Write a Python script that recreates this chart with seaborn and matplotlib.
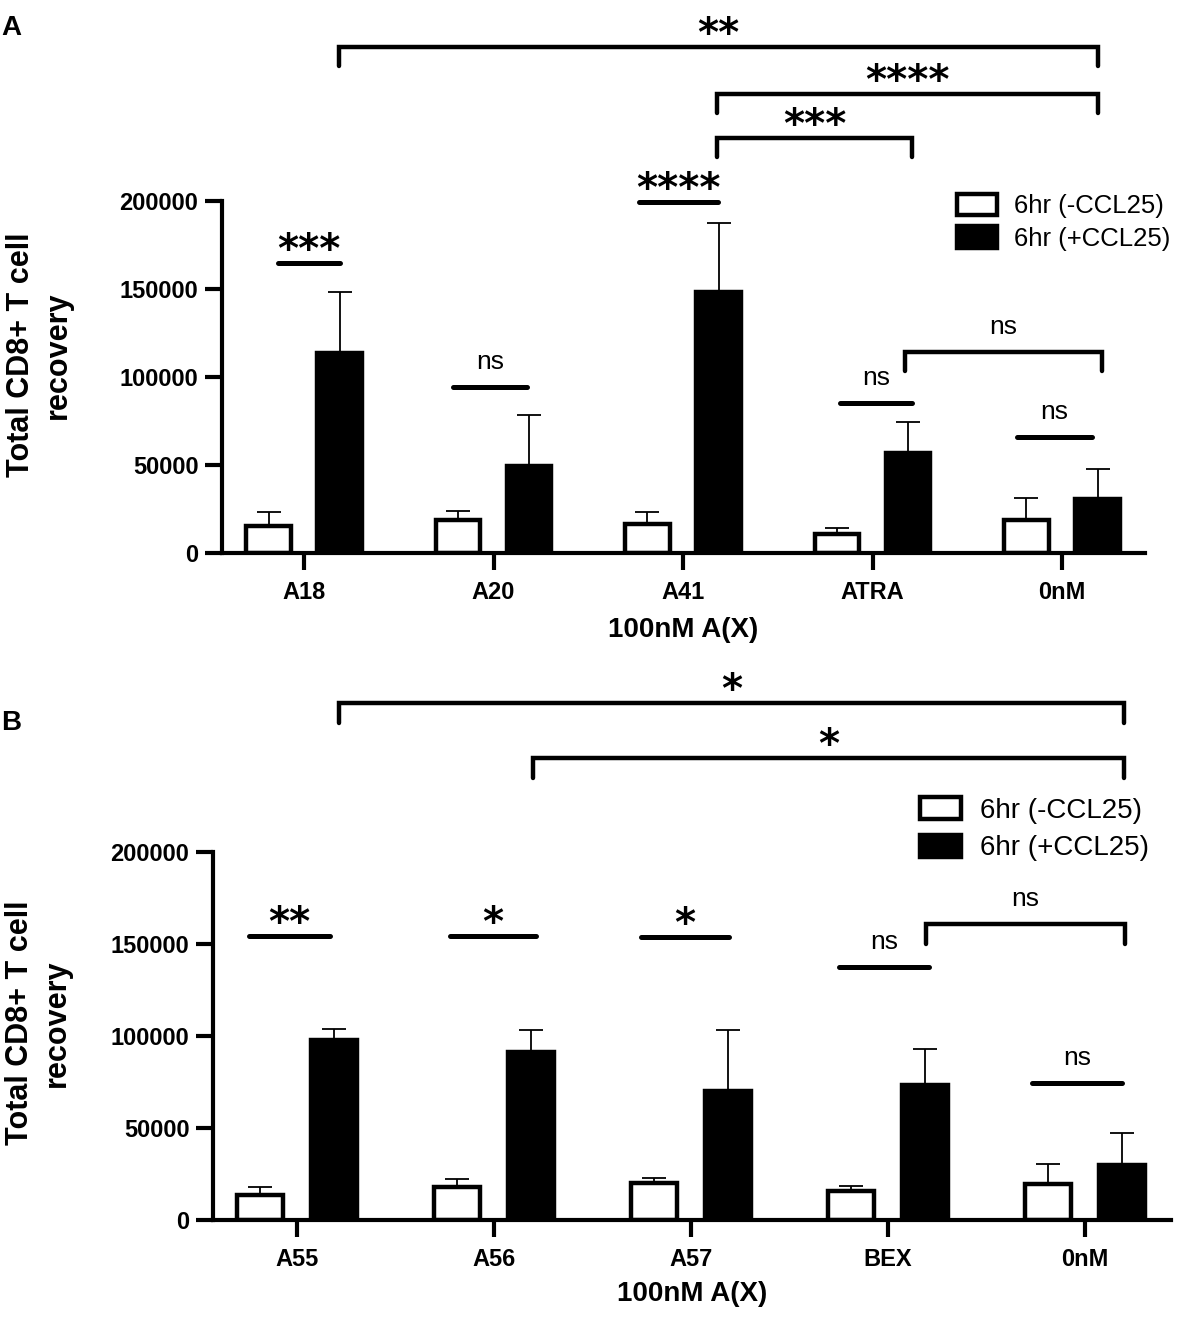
import matplotlib
matplotlib.use('Agg')
import matplotlib.pyplot as plt
from matplotlib.patches import Patch
import pandas as pd
import seaborn as sns

# panel A values (mean and upper SEM)
groups_a = ['A18', 'A20', 'A41', 'ATRA', '0nM']
minus_a = [15300, 18700, 16500, 10800, 18700]
minus_err_a = [8000, 5300, 6600, 3600, 12600]
plus_a = [113800, 49600, 148500, 56600, 30700]
plus_err_a = [34700, 28800, 38800, 17700, 17000]

# panel B values
groups_b = ['A55', 'A56', 'A57', 'BEX', '0nM']
minus_b = [13600, 17900, 20300, 15800, 19500]
minus_err_b = [4200, 4400, 2700, 2500, 10900]
plus_b = [97800, 91300, 70100, 73600, 29900]
plus_err_b = [6000, 12000, 33200, 19600, 17400]

hue_labels = ['6hr (-CCL25)', '6hr (+CCL25)']
yticks = [0, 50000, 100000, 150000, 200000]

# significance marks: (x start, x end, y, label) in group units / data units
lines_a = [(-0.14, 0.19, 164800, '***'), (0.786, 1.177, 94300, 'ns'),
           (1.77, 2.186, 199400, '****'), (2.83, 3.21, 85200, 'ns'),
           (3.76, 4.16, 65900, 'ns')]
brackets_a = [(3.17, 4.21, 114200, 'ns'), (2.18, 3.21, 235800, '***'),
              (2.18, 4.19, 260800, '****'), (0.185, 4.19, 287500, '**')]
lines_b = [(-0.244, 0.168, 154300, '**'), (0.777, 1.213, 154300, '*'),
           (1.746, 2.193, 153800, '*'), (2.751, 3.208, 137500, 'ns'),
           (3.731, 4.188, 74500, 'ns')]
brackets_b = [(3.193, 4.203, 160900, 'ns'), (1.198, 4.198, 251100, '*'),
              (0.213, 4.198, 281000, '*')]

sns.set_style('ticks')
plt.rcParams['font.family'] = ['Liberation Sans', 'DejaVu Sans']
plt.rcParams.update({'text.color': 'black', 'axes.labelcolor': 'black',
                     'axes.edgecolor': 'black', 'xtick.color': 'black',
                     'ytick.color': 'black'})


def make_frame(groups, minus, minus_err, plus, plus_err):
    rows = []
    for i, g in enumerate(groups):
        rows.append({'group': g, 'cond': hue_labels[0],
                     'value': minus[i], 'err': minus_err[i]})
        rows.append({'group': g, 'cond': hue_labels[1],
                     'value': plus[i], 'err': plus_err[i]})
    return pd.DataFrame(rows)


def put_label(ax, x, y, text):
    if text == 'ns':
        ax.annotate(text, xy=(x, y), xytext=(0, 13), textcoords='offset points',
                    ha='center', va='baseline', fontsize=19, color='black',
                    annotation_clip=False)
    else:
        ax.annotate(text, xy=(x, y), xytext=(0, 1), textcoords='offset points',
                    ha='center', va='baseline', fontsize=29, fontweight='bold',
                    family='DejaVu Sans', color='black', annotation_clip=False)


def draw_panel(ax, df, groups, lines, brackets, legend_pos, legend_size,
               ylabel_pos, xlabel_y, xlim):
    sns.barplot(data=df, x='group', y='value', hue='cond', order=groups,
                hue_order=hue_labels, palette=['white', 'black'],
                errorbar=None, width=0.75, gap=0.37, edgecolor='black',
                linewidth=3.2, legend=False, ax=ax)

    # upper error bars only, GraphPad style
    for patch in ax.patches:
        xc = patch.get_x() + patch.get_width() / 2
        gi = int(round(xc))
        cond = hue_labels[0] if xc < gi else hue_labels[1]
        row = df[(df['group'] == groups[gi]) & (df['cond'] == cond)].iloc[0]
        ax.errorbar(xc, row['value'], yerr=[[0], [row['err']]], fmt='none',
                    ecolor='black', elinewidth=1.3, capsize=8.5, capthick=1.3,
                    zorder=1)

    ax.set_ylim(0, 200000)
    ax.set_xlim(*xlim)
    ax.set_yticks(yticks)
    ax.set_yticklabels([str(t) for t in yticks])
    sns.despine(ax=ax)
    for side in ['left', 'bottom']:
        ax.spines[side].set_linewidth(3)
    ax.tick_params(axis='both', length=12, width=3, labelsize=17)
    ax.tick_params(axis='y', pad=5)
    ax.tick_params(axis='x', pad=8)
    for lab in ax.get_xticklabels() + ax.get_yticklabels():
        lab.set_fontweight('bold')

    ax.set_xlabel('100nM A(X)', fontsize=20, fontweight='bold')
    ax.xaxis.set_label_coords(0.5, xlabel_y)
    ax.set_ylabel('Total CD8+ T cell\nrecovery', fontsize=22,
                  fontweight='bold', linespacing=1.3)
    ax.yaxis.set_label_coords(*ylabel_pos)

    drop = 10800
    for x1, x2, y, text in lines:
        ax.plot([x1, x2], [y, y], color='black', lw=3.6,
                solid_capstyle='round', clip_on=False)
        put_label(ax, (x1 + x2) / 2, y, text)
    for x1, x2, y, text in brackets:
        ax.plot([x1, x1, x2, x2], [y - drop, y, y, y - drop], color='black',
                lw=3.2, solid_joinstyle='miter', clip_on=False)
        put_label(ax, (x1 + x2) / 2, y, text)

    handles = [Patch(facecolor='white', edgecolor='black', linewidth=3.2),
               Patch(facecolor='black', edgecolor='black', linewidth=3.2)]
    ax.legend(handles, hue_labels, loc='upper left', bbox_to_anchor=legend_pos,
              frameon=False, borderpad=0, borderaxespad=0,
              fontsize=legend_size[0], handlelength=legend_size[1],
              handleheight=legend_size[2], handletextpad=0.68,
              labelspacing=legend_size[3])


fig = plt.figure(figsize=(11.81, 13.26), dpi=100)
ax_a = fig.add_axes([222 / 1181, 1 - 553 / 1326, 923 / 1181, 352 / 1326])
ax_b = fig.add_axes([213 / 1181, 1 - 1220 / 1326, 958 / 1181, 368 / 1326])

df_a = make_frame(groups_a, minus_a, minus_err_a, plus_a, plus_err_a)
df_b = make_frame(groups_b, minus_b, minus_err_b, plus_b, plus_err_b)

draw_panel(ax_a, df_a, groups_a, lines_a, brackets_a,
           legend_pos=(0.796, 1.021), legend_size=(18.5, 1.55, 0.92, 0.3),
           ylabel_pos=(-0.162, 0.5625), xlabel_y=-0.182,
           xlim=(-0.433, 4.438))
draw_panel(ax_b, df_b, groups_b, lines_b, brackets_b,
           legend_pos=(0.738, 1.149), legend_size=(20, 1.47, 0.83, 0.4),
           ylabel_pos=(-0.147, 0.535), xlabel_y=-0.166,
           xlim=(-0.426, 4.437))

fig.text(0.001, 1 - 28 / 1326, 'A', ha='left', va='center', fontsize=20,
         fontweight='bold')
fig.text(0.001, 1 - 723 / 1326, 'B', ha='left', va='center', fontsize=20,
         fontweight='bold')

fig.savefig('out.png', dpi=100)
